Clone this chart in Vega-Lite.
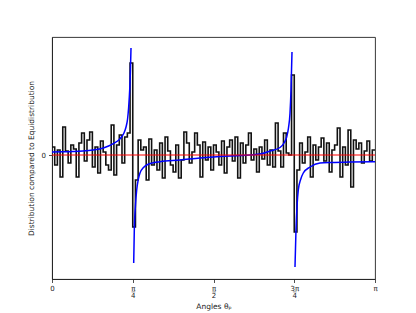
{
  "$schema": "https://vega.github.io/schema/vega-lite/v6.json",
  "autosize": {"type": "none"},
  "padding": {"left": 52, "top": 37, "right": 41, "bottom": 34},
  "width": 323,
  "height": 242,
  "config": {
    "font": "DejaVu Sans",
    "view": {"stroke": "#222", "strokeWidth": 0.9},
    "axis": {"domainColor": "#222", "domainWidth": 0.9, "tickColor": "#222", "tickWidth": 0.8, "tickSize": 3.5, "grid": false, "labelFont": "DejaVu Sans", "titleFont": "DejaVu Sans", "labelFontSize": 7, "titleFontSize": 7.5, "titleFontWeight": "normal", "labelColor": "#222", "titleColor": "#222", "labelFlush": false, "labelOverlap": false, "labelBound": false}
  },
  "layer": [
    {
      "data": {"values": [
        {"t": 0, "v": 8}, {"t": 0.0262, "v": -10}, {"t": 0.0524, "v": 5}, {"t": 0.0785, "v": -22}, {"t": 0.1047, "v": 28},
        {"t": 0.1309, "v": 4}, {"t": 0.1571, "v": -8}, {"t": 0.1833, "v": 10}, {"t": 0.2094, "v": 6}, {"t": 0.2356, "v": -22},
        {"t": 0.2618, "v": 12}, {"t": 0.2880, "v": 22}, {"t": 0.3142, "v": -6}, {"t": 0.3403, "v": 15}, {"t": 0.3665, "v": 23},
        {"t": 0.3927, "v": -12}, {"t": 0.4189, "v": 8}, {"t": 0.4451, "v": -18}, {"t": 0.4712, "v": 14}, {"t": 0.4974, "v": 3},
        {"t": 0.5236, "v": -10}, {"t": 0.5498, "v": -15}, {"t": 0.5760, "v": 30}, {"t": 0.6021, "v": -20}, {"t": 0.6283, "v": 10},
        {"t": 0.6545, "v": 20}, {"t": 0.6807, "v": -8}, {"t": 0.7069, "v": 18}, {"t": 0.7330, "v": 22}, {"t": 0.7592, "v": 92},
        {"t": 0.7854, "v": -72}, {"t": 0.8116, "v": -25}, {"t": 0.8378, "v": 15}, {"t": 0.8639, "v": 5}, {"t": 0.8901, "v": 8},
        {"t": 0.9163, "v": -25}, {"t": 0.9425, "v": 16}, {"t": 0.9687, "v": -10}, {"t": 0.9948, "v": 5}, {"t": 1.0210, "v": -15},
        {"t": 1.0472, "v": 12}, {"t": 1.0734, "v": -23}, {"t": 1.0996, "v": 18}, {"t": 1.1257, "v": 4}, {"t": 1.1519, "v": -10},
        {"t": 1.1781, "v": -17}, {"t": 1.2043, "v": 10}, {"t": 1.2305, "v": -23}, {"t": 1.2566, "v": -5}, {"t": 1.2828, "v": 23},
        {"t": 1.3090, "v": 12}, {"t": 1.3352, "v": -8}, {"t": 1.3614, "v": 3}, {"t": 1.3875, "v": 22}, {"t": 1.4137, "v": 10},
        {"t": 1.4399, "v": -22}, {"t": 1.4661, "v": 13}, {"t": 1.4923, "v": -5}, {"t": 1.5184, "v": 8}, {"t": 1.5446, "v": -15},
        {"t": 1.5708, "v": 10}, {"t": 1.5970, "v": 3}, {"t": 1.6232, "v": -10}, {"t": 1.6493, "v": 14}, {"t": 1.6755, "v": -18},
        {"t": 1.7017, "v": 8}, {"t": 1.7279, "v": 15}, {"t": 1.7541, "v": -6}, {"t": 1.7802, "v": 18}, {"t": 1.8064, "v": -23},
        {"t": 1.8326, "v": 12}, {"t": 1.8588, "v": -8}, {"t": 1.8850, "v": 10}, {"t": 1.9111, "v": 22}, {"t": 1.9373, "v": -5},
        {"t": 1.9635, "v": 6}, {"t": 1.9897, "v": -17}, {"t": 2.0159, "v": 8}, {"t": 2.0420, "v": -4}, {"t": 2.0682, "v": 15},
        {"t": 2.0944, "v": -10}, {"t": 2.1206, "v": 5}, {"t": 2.1468, "v": -12}, {"t": 2.1729, "v": 32}, {"t": 2.1991, "v": 4},
        {"t": 2.2253, "v": -12}, {"t": 2.2515, "v": 22}, {"t": 2.2777, "v": 2}, {"t": 2.3038, "v": 0}, {"t": 2.3300, "v": 80},
        {"t": 2.3562, "v": -77}, {"t": 2.3824, "v": -15}, {"t": 2.4086, "v": 12}, {"t": 2.4347, "v": -8}, {"t": 2.4609, "v": 3},
        {"t": 2.4871, "v": 18}, {"t": 2.5133, "v": -22}, {"t": 2.5395, "v": 10}, {"t": 2.5656, "v": -5}, {"t": 2.5918, "v": 8},
        {"t": 2.6180, "v": 17}, {"t": 2.6442, "v": -6}, {"t": 2.6704, "v": 12}, {"t": 2.6965, "v": -17}, {"t": 2.7227, "v": 5},
        {"t": 2.7489, "v": 10}, {"t": 2.7751, "v": 27}, {"t": 2.8013, "v": -22}, {"t": 2.8274, "v": 8}, {"t": 2.8536, "v": -10},
        {"t": 2.8798, "v": 25}, {"t": 2.9060, "v": -32}, {"t": 2.9322, "v": 15}, {"t": 2.9583, "v": 6}, {"t": 2.9845, "v": 12},
        {"t": 3.0107, "v": -8}, {"t": 3.0369, "v": 4}, {"t": 3.0631, "v": 14}, {"t": 3.0892, "v": -6}, {"t": 3.1154, "v": 5},
        {"t": 3.1416, "v": 5}
      ]},
      "mark": {"type": "line", "interpolate": "step-after", "color": "#111", "strokeWidth": 1.6},
      "encoding": {
        "x": {"field": "t", "type": "quantitative", "scale": {"domain": [0, 3.14159], "nice": false, "zero": false},
          "axis": {"title": "Angles θₚ", "values": [0, 0.785398, 1.570796, 2.356194, 3.14159], "labelPadding": 2, "titlePadding": 4, "labelLineHeight": 7,
            "labelExpr": "round(datum.value*4/PI) == 0 ? '0' : round(datum.value*4/PI) == 1 ? ['π','4̅'] : round(datum.value*4/PI) == 2 ? ['π','2̅'] : round(datum.value*4/PI) == 3 ? ['3π','4̅'] : 'π'"}},
        "y": {"field": "v", "type": "quantitative", "scale": {"domain": [-124, 118], "nice": false, "zero": false},
          "axis": {"title": "Distribution compared to Equidistribution", "values": [0], "labelPadding": 3, "titlePadding": 6}}
      }
    },
    {
      "data": {"values": [
        {"t": 0, "v": 3, "s": "a"}, {"t": 0.1, "v": 3.2, "s": "a"}, {"t": 0.2, "v": 3.5, "s": "a"}, {"t": 0.3, "v": 4, "s": "a"},
        {"t": 0.4, "v": 5, "s": "a"}, {"t": 0.5, "v": 7, "s": "a"}, {"t": 0.55, "v": 9, "s": "a"}, {"t": 0.6, "v": 11.7, "s": "a"},
        {"t": 0.65, "v": 15, "s": "a"}, {"t": 0.68, "v": 18.5, "s": "a"}, {"t": 0.70, "v": 22, "s": "a"}, {"t": 0.72, "v": 28, "s": "a"},
        {"t": 0.735, "v": 36, "s": "a"}, {"t": 0.745, "v": 47, "s": "a"}, {"t": 0.752, "v": 58, "s": "a"}, {"t": 0.758, "v": 70, "s": "a"},
        {"t": 0.763, "v": 85, "s": "a"}, {"t": 0.7684, "v": 107, "s": "a"},
        {"t": 0.7946, "v": -108, "s": "b"}, {"t": 0.8005, "v": -75, "s": "b"}, {"t": 0.812, "v": -50, "s": "b"}, {"t": 0.8238, "v": -35, "s": "b"},
        {"t": 0.84, "v": -24, "s": "b"}, {"t": 0.8559, "v": -18, "s": "b"}, {"t": 0.89, "v": -12.5, "s": "b"}, {"t": 0.9211, "v": -10, "s": "b"},
        {"t": 1.05, "v": -6.7, "s": "b"}, {"t": 1.245, "v": -5, "s": "b"}, {"t": 1.44, "v": -3, "s": "b"}, {"t": 1.634, "v": -1.5, "s": "b"},
        {"t": 1.83, "v": -0.5, "s": "b"}, {"t": 2.023, "v": 1, "s": "b"}, {"t": 2.12, "v": 4, "s": "b"}, {"t": 2.218, "v": 7.5, "s": "b"},
        {"t": 2.2565, "v": 12, "s": "b"}, {"t": 2.2827, "v": 18, "s": "b"}, {"t": 2.30, "v": 27, "s": "b"}, {"t": 2.315, "v": 42, "s": "b"},
        {"t": 2.3246, "v": 65, "s": "b"}, {"t": 2.3343, "v": 103, "s": "b"},
        {"t": 2.3634, "v": -112, "s": "c"}, {"t": 2.3731, "v": -75, "s": "c"}, {"t": 2.384, "v": -50, "s": "c"}, {"t": 2.3955, "v": -35, "s": "c"},
        {"t": 2.42, "v": -24, "s": "c"}, {"t": 2.4441, "v": -18, "s": "c"}, {"t": 2.5093, "v": -12, "s": "c"}, {"t": 2.6066, "v": -8, "s": "c"},
        {"t": 2.733, "v": -7.5, "s": "c"}, {"t": 2.8984, "v": -7, "s": "c"}, {"t": 3.1221, "v": -6.8, "s": "c"}, {"t": 3.1416, "v": -6.8, "s": "c"}
      ]},
      "mark": {"type": "line", "color": "#0000ff", "strokeWidth": 1.5, "interpolate": "monotone"},
      "encoding": {
        "x": {"field": "t", "type": "quantitative"},
        "y": {"field": "v", "type": "quantitative"},
        "detail": {"field": "s", "type": "nominal"}
      }
    },
    {
      "data": {"values": [{"v": 0}]},
      "mark": {"type": "rule", "color": "#ff0000", "strokeWidth": 1},
      "encoding": {"y": {"field": "v", "type": "quantitative"}}
    }
  ]
}
